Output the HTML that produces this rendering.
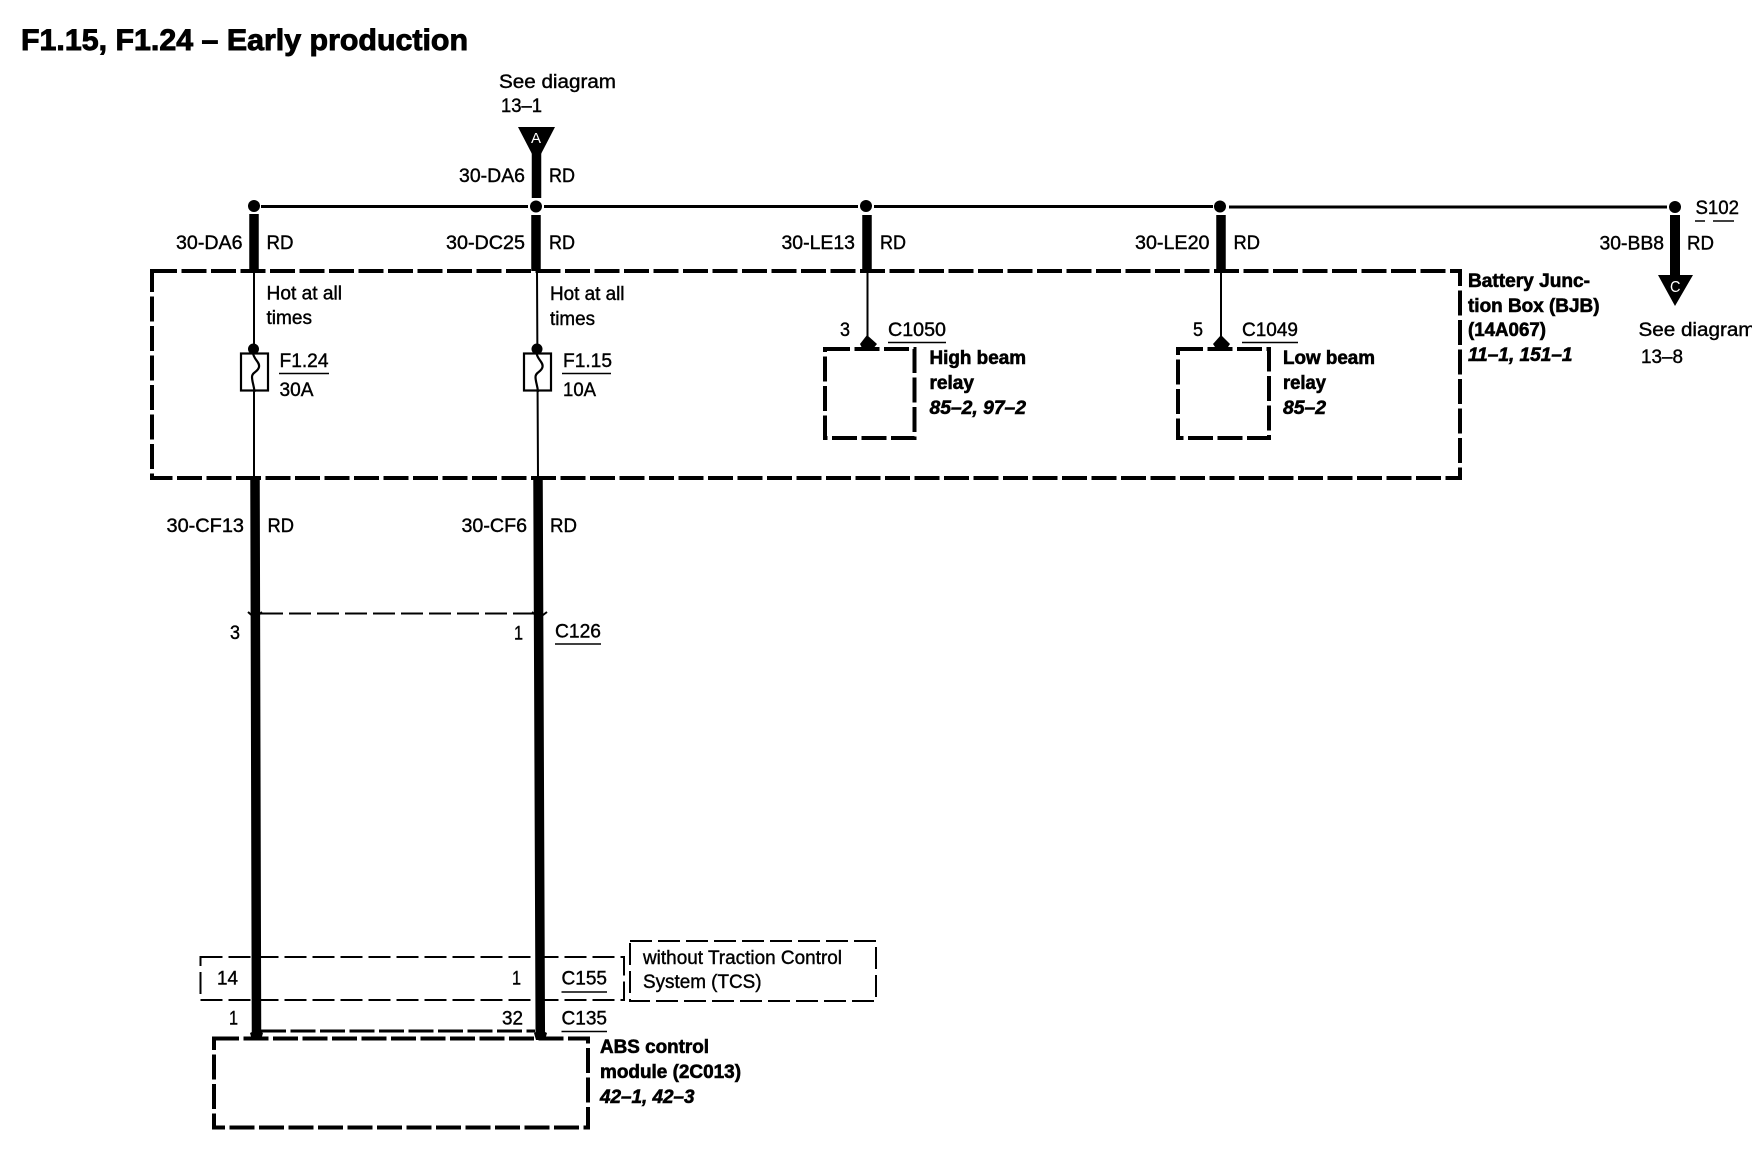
<!DOCTYPE html>
<html><head><meta charset="utf-8"><style>
html,body{margin:0;padding:0;background:#fff;width:1752px;height:1152px;overflow:hidden}
svg{display:block}
text{font-family:"Liberation Sans",sans-serif;font-size:19px;fill:#000;stroke:#000;stroke-width:.4}
.b{font-weight:bold;stroke-width:.6}
.i{font-weight:bold;font-style:italic;stroke-width:.6}
.w{stroke:#000;fill:none}
</style></head><body>
<svg width="1752" height="1152" viewBox="0 0 1752 1152" xmlns="http://www.w3.org/2000/svg">
<text x="21" y="50" class="b" style="font-size:30px;stroke-width:.9" textLength="447" lengthAdjust="spacingAndGlyphs">F1.15, F1.24 – Early production</text>

<!-- bus -->
<path class="w" stroke-width="3" d="M261 206.500H528M544 206.500H858M874 206.500H1213M1229 207H1667"/>
<g fill="#000"><circle cx="254" cy="206" r="6"/><circle cx="536" cy="206.500" r="6"/><circle cx="866" cy="206" r="6"/><circle cx="1220" cy="206.500" r="6"/><circle cx="1675" cy="207" r="6"/></g>

<!-- thick wires -->
<g class="w" stroke-width="9.500">
<path d="M536.500 150V198M254 214V271M536 215V271M867 215V271M1221 215V271"/>
<path d="M1675 215V278" stroke-width="10"/>
<path d="M255 478L256.500 1036M538 478L540.300 1036"/>
</g>
<!-- thin wires -->
<g class="w" stroke-width="2">
<path d="M254 271V478M537 271L538 478M867.500 271V345M1221 271V345"/>
</g>
<!-- triangles -->
<polygon points="518,127 555,127 541,154 532,154" fill="#000"/>
<polygon points="1658,275 1693,275 1675,306" fill="#000"/>
<text x="531" y="143" style="font-size:15px;fill:#fff;stroke:none" textLength="10" lengthAdjust="spacingAndGlyphs">A</text>
<text x="1670" y="292" style="font-size:16px;fill:#fff;stroke:none" textLength="10.500" lengthAdjust="spacingAndGlyphs">C</text>

<!-- Dashed boxes -->
<g class="w" stroke-width="3.800" stroke-dasharray="25 4.500" shape-rendering="crispEdges">
<rect x="152" y="271" width="1308" height="207"/>
<rect x="825" y="349" width="89.500" height="89"/>
<rect x="1178" y="349" width="91" height="89"/>
<rect x="214" y="1038.500" width="374" height="89"/>
<path d="M261 1031H535" stroke-width="3"/>
</g>
<g class="w" stroke-width="2.200" stroke-dasharray="22 6" shape-rendering="crispEdges">
<path d="M261 613.500H535"/>
<rect x="200.500" y="957" width="423.500" height="43"/>
<rect x="630" y="941" width="246" height="60"/>
</g>

<!-- fuses -->
<g class="w" stroke-width="2.200">
<rect x="241" y="353.500" width="27" height="37" fill="#fff"/>
<rect x="524" y="353.500" width="27" height="37" fill="#fff"/>
<path d="M253 353C254 360 260 362 259 367C258 372 252 372 252 377C252 382 254 385 254.500 392"/>
<path d="M536.500 353C537.500 360 543.500 362 542.500 367C541.500 372 535.500 372 535.500 377C535.500 382 537.500 385 538 392"/>
</g>
<circle cx="253.500" cy="349" r="5.500" fill="#000"/><circle cx="537" cy="349" r="5.500" fill="#000"/>

<!-- relay connector domes -->
<path d="M860 344L867 335L877 344L872 350H863Z" fill="#000"/>
<path d="M1213 344L1221 335L1230 344L1226 350H1217Z" fill="#000"/>
<!-- connector ticks -->
<g class="w" stroke-width="2">
<path d="M248 612L255 618L262 612M532 612L539 618L547 612"/>
</g>
<g fill="#000">
<path d="M250 1033Q256 1029 263 1033L261 1040H252Z"/>
<path d="M534 1033Q540 1029 547 1033L545 1040H536Z"/>
</g>

<!-- underlines -->
<g class="w" stroke-width="1.500">
<path d="M279 373.500H329M562 373.500H611M888 342.500H946M1242 342.500H1298M555 644H601M561.500 992H607M561.500 1031.500H607"/>
<path d="M1695 221H1705M1713 221H1734"/>
</g>

<!-- labels -->
<text x="499" y="88" textLength="117" lengthAdjust="spacingAndGlyphs">See diagram</text>
<text x="501" y="112" textLength="41" lengthAdjust="spacingAndGlyphs">13–1</text>
<text x="459" y="182" textLength="66" lengthAdjust="spacingAndGlyphs">30-DA6</text>
<text x="549" y="182" textLength="26" lengthAdjust="spacingAndGlyphs">RD</text>

<text x="176" y="249" textLength="66.500" lengthAdjust="spacingAndGlyphs">30-DA6</text>
<text x="266.500" y="249" textLength="27" lengthAdjust="spacingAndGlyphs">RD</text>
<text x="446" y="249" textLength="79" lengthAdjust="spacingAndGlyphs">30-DC25</text>
<text x="549" y="249" textLength="26" lengthAdjust="spacingAndGlyphs">RD</text>
<text x="781.500" y="249" textLength="73.500" lengthAdjust="spacingAndGlyphs">30-LE13</text>
<text x="880" y="249" textLength="26" lengthAdjust="spacingAndGlyphs">RD</text>
<text x="1135" y="249" textLength="74.500" lengthAdjust="spacingAndGlyphs">30-LE20</text>
<text x="1233.500" y="249" textLength="26.500" lengthAdjust="spacingAndGlyphs">RD</text>
<text x="1599.500" y="249.500" textLength="64.500" lengthAdjust="spacingAndGlyphs">30-BB8</text>
<text x="1687" y="249.500" textLength="27" lengthAdjust="spacingAndGlyphs">RD</text>
<text x="1695.500" y="214" textLength="43.500" lengthAdjust="spacingAndGlyphs">S102</text>

<text x="266.500" y="299.500" textLength="75.500" lengthAdjust="spacingAndGlyphs">Hot at all</text>
<text x="266.500" y="324" textLength="45.500" lengthAdjust="spacingAndGlyphs">times</text>
<text x="550" y="300" textLength="74.500" lengthAdjust="spacingAndGlyphs">Hot at all</text>
<text x="550" y="325" textLength="45" lengthAdjust="spacingAndGlyphs">times</text>

<text x="279.500" y="367" textLength="49" lengthAdjust="spacingAndGlyphs">F1.24</text>
<text x="279.500" y="396" textLength="34" lengthAdjust="spacingAndGlyphs">30A</text>
<text x="563" y="367" textLength="49" lengthAdjust="spacingAndGlyphs">F1.15</text>
<text x="563" y="396" textLength="33" lengthAdjust="spacingAndGlyphs">10A</text>

<text x="840" y="336" textLength="10" lengthAdjust="spacingAndGlyphs">3</text>
<text x="888" y="336" textLength="58" lengthAdjust="spacingAndGlyphs">C1050</text>
<text x="1193" y="336" textLength="10" lengthAdjust="spacingAndGlyphs">5</text>
<text x="1242" y="336" textLength="56" lengthAdjust="spacingAndGlyphs">C1049</text>

<text x="929.500" y="364" class="b" textLength="96.500" lengthAdjust="spacingAndGlyphs">High beam</text>
<text x="929.500" y="389" class="b" textLength="44.500" lengthAdjust="spacingAndGlyphs">relay</text>
<text x="929.500" y="414" class="i" textLength="96.500" lengthAdjust="spacingAndGlyphs">85–2, 97–2</text>
<text x="1283" y="364" class="b" textLength="92" lengthAdjust="spacingAndGlyphs">Low beam</text>
<text x="1283" y="389" class="b" textLength="43" lengthAdjust="spacingAndGlyphs">relay</text>
<text x="1283" y="414" class="i" textLength="43" lengthAdjust="spacingAndGlyphs">85–2</text>

<text x="1468" y="287" class="b" textLength="122" lengthAdjust="spacingAndGlyphs">Battery Junc-</text>
<text x="1468" y="312" class="b" textLength="131.500" lengthAdjust="spacingAndGlyphs">tion Box (BJB)</text>
<text x="1468" y="336" class="b" textLength="78" lengthAdjust="spacingAndGlyphs">(14A067)</text>
<text x="1468" y="361" class="i" textLength="104.500" lengthAdjust="spacingAndGlyphs">11–1, 151–1</text>

<text x="1638.500" y="336" textLength="117" lengthAdjust="spacingAndGlyphs">See diagram</text>
<text x="1641" y="363" textLength="42" lengthAdjust="spacingAndGlyphs">13–8</text>

<text x="166.500" y="532" textLength="77.500" lengthAdjust="spacingAndGlyphs">30-CF13</text>
<text x="267.500" y="532" textLength="26.500" lengthAdjust="spacingAndGlyphs">RD</text>
<text x="461.500" y="532" textLength="65.500" lengthAdjust="spacingAndGlyphs">30-CF6</text>
<text x="550" y="532" textLength="27" lengthAdjust="spacingAndGlyphs">RD</text>

<text x="230" y="639" textLength="10" lengthAdjust="spacingAndGlyphs">3</text>
<text x="514" y="639.500" textLength="9" lengthAdjust="spacingAndGlyphs">1</text>
<text x="555" y="637.500" textLength="46" lengthAdjust="spacingAndGlyphs">C126</text>

<text x="217" y="984.500" textLength="21" lengthAdjust="spacingAndGlyphs">14</text>
<text x="512" y="984.500" textLength="9" lengthAdjust="spacingAndGlyphs">1</text>
<text x="561.500" y="984.500" textLength="45.500" lengthAdjust="spacingAndGlyphs">C155</text>
<text x="643" y="964" textLength="199" lengthAdjust="spacingAndGlyphs">without Traction Control</text>
<text x="643" y="988" textLength="118.500" lengthAdjust="spacingAndGlyphs">System (TCS)</text>

<text x="229" y="1024.500" textLength="9" lengthAdjust="spacingAndGlyphs">1</text>
<text x="502" y="1024.500" textLength="21" lengthAdjust="spacingAndGlyphs">32</text>
<text x="561.500" y="1024.500" textLength="45.500" lengthAdjust="spacingAndGlyphs">C135</text>

<text x="600" y="1053" class="b" textLength="109" lengthAdjust="spacingAndGlyphs">ABS control</text>
<text x="600" y="1078" class="b" textLength="141" lengthAdjust="spacingAndGlyphs">module (2C013)</text>
<text x="600" y="1103" class="i" textLength="94.500" lengthAdjust="spacingAndGlyphs">42–1, 42–3</text>
</svg>
</body></html>
